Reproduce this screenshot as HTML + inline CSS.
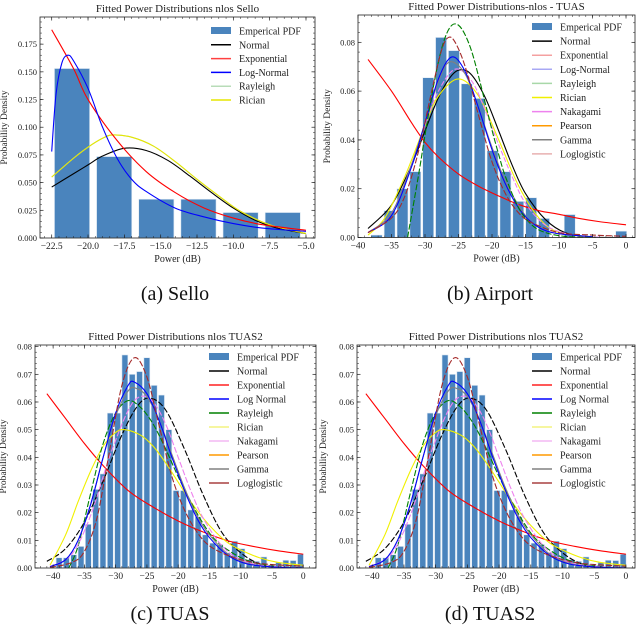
<!DOCTYPE html>
<html><head><meta charset="utf-8">
<style>
html,body{margin:0;padding:0;background:#fff;}
svg{display:block;font-family:"Liberation Serif",serif;}
</style></head>
<body>
<svg id="fig" width="640" height="625" viewBox="0 0 640 625" xmlns="http://www.w3.org/2000/svg"></svg>
<script>
// ---------- Panel (a) Sello data ----------
const aBarCenters = [-21.1, -18.2, -15.3, -12.4, -9.5, -6.6];
const aBarHeights = [0.153, 0.0735, 0.035, 0.035, 0.023, 0.023];
const aNormalX = [-22.5,-21,-20,-19,-17.5,-16,-14.5,-13,-11.5,-10,-8.5,-7,-5];
const aNormalY = [0.046,0.058,0.066,0.074,0.081,0.079,0.070,0.056,0.041,0.027,0.016,0.009,0.004];
const aRicianX = [-22.5,-21,-20,-19,-18.3,-17,-15.5,-14,-12.5,-11,-9.5,-7.5,-5];
const aRicianY = [0.055,0.072,0.082,0.090,0.093,0.091,0.083,0.069,0.053,0.038,0.024,0.012,0.004];
const aExpX = [-22.5,-21,-20,-18,-16,-14,-12,-10,-8,-5];
const aExpY = [0.188,0.153,0.125,0.088,0.060,0.041,0.027,0.018,0.012,0.007];
const aLogNX = [-22.5,-22.2,-21.8,-21.4,-21,-20,-19,-18,-17,-16,-14,-12,-10,-8,-5];
const aLogNY = [0.078,0.13,0.158,0.165,0.16,0.135,0.10,0.072,0.053,0.042,0.027,0.019,0.013,0.009,0.006];
const aTicksX = [-22.5,-20,-17.5,-15,-12.5,-10,-7.5,-5];
const aTickLabelsX = ["\u221222.5","\u221220.0","\u221217.5","\u221215.0","\u221212.5","\u221210.0","\u22127.5","\u22125.0"];
const aTicksY = [0,0.025,0.05,0.075,0.1,0.125,0.15,0.175];
const aTickLabelsY = ["0.000","0.025","0.050","0.075","0.100","0.125","0.150","0.175"];

// ---------- Panel (b) Airport data ----------
const bBarCenters = [-37.2,-35.28,-33.36,-31.44,-29.52,-27.6,-25.68,-23.76,-21.84,-19.92,-18,-16.08,-14.16,-12.24,-10.32,-8.4,-6.48,-4.56,-2.64,-0.72];
const bBarHeights = [0.001,0.011,0.020,0.027,0.0655,0.082,0.0766,0.063,0.057,0.0356,0.027,0.0148,0.0163,0.0078,0,0.0094,0,0,0,0.0026];
const bNormalX = [-38.5,-35,-32,-30,-28,-26,-24.5,-23,-21,-19,-17,-15,-12,-9,-5,0];
const bNormalY = [0.0037,0.0133,0.0297,0.0437,0.0573,0.0665,0.0688,0.0665,0.0573,0.0437,0.0297,0.018,0.0073,0.0019,0.0002,0];
const bExpX = [-38.5,-35,-32,-30,-28,-25,-22,-19,-16,-13,-10,-7,-4,0];
const bExpY = [0.073,0.060,0.047,0.039,0.033,0.026,0.021,0.017,0.0135,0.011,0.0095,0.0078,0.0065,0.0052];
const bRayX = [-32.6,-31,-30,-29,-28,-27,-26,-25,-24,-23,-22,-21,-20,-19,-18,-16,-14,-12,-9,-5];
const bRayY = [0,0.025,0.042,0.058,0.072,0.082,0.087,0.087,0.083,0.076,0.066,0.055,0.044,0.034,0.025,0.012,0.005,0.002,0.0004,0];
const bLogLX = [-38.5,-35,-33,-31,-29,-27.5,-26.5,-25.5,-24,-22,-20,-18,-16,-14,-10,-5,0];
const bLogLY = [0.002,0.008,0.017,0.035,0.060,0.077,0.082,0.080,0.070,0.050,0.031,0.018,0.010,0.006,0.002,0.001,0.0005];
const bLogNX = [-38.5,-35,-32,-30,-28,-26,-24,-22,-20,-18,-16,-14,-11,-5];
const bLogNY = [0.002,0.009,0.029,0.047,0.065,0.074,0.068,0.053,0.036,0.022,0.012,0.006,0.002,0.0003];
const bGammaX = [-38.5,-35,-32,-30,-28,-26.3,-24,-22,-20,-18,-16,-14,-11,-5];
const bGammaY = [0.002,0.010,0.030,0.047,0.064,0.072,0.067,0.053,0.037,0.023,0.013,0.006,0.002,0.0003];
const bNakX = [-38.5,-35,-32,-30,-28,-25.5,-23,-21,-19,-17,-15,-12,-8,-4];
const bNakY = [0.002,0.010,0.030,0.046,0.060,0.069,0.064,0.052,0.038,0.025,0.014,0.005,0.001,0.0002];
const bRicX = [-38.5,-36,-33,-30,-28,-25,-22,-19,-16,-13,-10,-5];
const bRicY = [0.001,0.008,0.025,0.046,0.058,0.065,0.058,0.040,0.021,0.008,0.002,0];
const bTicksX = [-40,-35,-30,-25,-20,-15,-10,-5,0];
const bTickLabelsX = ["\u221240","\u221235","\u221230","\u221225","\u221220","\u221215","\u221210","\u22125","0"];
const bTicksY = [0,0.02,0.04,0.06,0.08];
const bTickLabelsY = ["0.00","0.02","0.04","0.06","0.08"];

// ---------- Panels (c),(d) TUAS data ----------
const cBarHeights = [0.0037,0.0037,0.0048,0.0078,0.0158,0.0284,0.034,0.056,0.056,0.077,0.070,0.071,0.076,0.066,0.0625,0.050,0.028,0.028,0.021,0.0185,0.012,0.009,0.0085,0.0055,0.0097,0.007,0.003,0.0024,0.004,0.001,0.002,0.0028,0.0027,0.005];
const cBarStart = -39.05;
const cBarStep = 1.17;
const cNormalX = [-41,-38,-35,-32,-29,-26.5,-24.5,-22,-19,-16,-13,-10,-7,-4,0];
const cNormalY = [0.0024,0.0070,0.0166,0.0315,0.0481,0.0586,0.0614,0.0571,0.0430,0.0264,0.0128,0.0055,0.0015,0.0003,0.0001];
const cExpX = [-41,-38,-35,-32,-28,-24,-20,-16,-12,-8,-4,0];
const cExpY = [0.063,0.054,0.045,0.037,0.028,0.022,0.017,0.013,0.0098,0.0078,0.0062,0.005];
const cLogNX = [-40.5,-38,-36,-34,-32,-30,-28,-27,-25,-23,-21,-19,-17,-15,-12,-9,-5,0];
const cLogNY = [0.0005,0.003,0.010,0.023,0.040,0.056,0.066,0.0672,0.063,0.053,0.040,0.028,0.018,0.011,0.0045,0.0015,0.0004,0];
const cGammaX = [-40.5,-38,-36,-34,-32,-30,-28,-26.8,-25,-23,-21,-19,-17,-15,-12,-9,-5,0];
const cGammaY = [0.0005,0.003,0.010,0.023,0.040,0.055,0.064,0.065,0.062,0.053,0.041,0.029,0.019,0.012,0.005,0.0017,0.0004,0];
const cNakX = [-40.5,-37,-34,-31,-28,-26,-24,-22,-20,-18,-16,-13,-10,-6,0];
const cNakY = [0.0005,0.005,0.019,0.040,0.057,0.062,0.060,0.052,0.040,0.028,0.018,0.008,0.003,0.0008,0];
const cRayX = [-37.5,-36,-34,-32,-30,-28,-26,-24,-22,-20,-18,-16,-14,-11,-8,-4,0];
const cRayY = [0,0.008,0.027,0.045,0.056,0.0605,0.058,0.052,0.043,0.033,0.024,0.016,0.010,0.005,0.002,0.0005,0];
const cRicX = [-40.5,-38,-36,-34,-32,-30,-28.5,-26,-24,-22,-20,-18,-16,-14,-12,-10,-7,-4,0];
const cRicY = [0.001,0.012,0.024,0.035,0.044,0.049,0.050,0.048,0.044,0.038,0.031,0.024,0.018,0.013,0.009,0.0065,0.0037,0.002,0.001];
const cLogLX = [-40.5,-37,-35,-33,-31,-29,-27,-25,-23,-21,-19,-17,-15,-12,-8,-4,0];
const cLogLY = [0.0002,0.002,0.006,0.018,0.042,0.066,0.076,0.069,0.051,0.033,0.021,0.013,0.008,0.0045,0.002,0.0011,0.0007];
const cTicksX = [-40,-35,-30,-25,-20,-15,-10,-5,0];
const cTickLabelsX = ["\u221240","\u221235","\u221230","\u221225","\u221220","\u221215","\u221210","\u22125","0"];
const cTicksY = [0,0.01,0.02,0.03,0.04,0.05,0.06,0.07,0.08];
const cTickLabelsY = ["0.00","0.01","0.02","0.03","0.04","0.05","0.06","0.07","0.08"];

const NS = "http://www.w3.org/2000/svg";
const fig = document.getElementById('fig');
function mk(tag, attrs, parent) {
  const e = document.createElementNS(NS, tag);
  for (const k in attrs) e.setAttribute(k, attrs[k]);
  (parent || fig).appendChild(e);
  return e;
}
function smoothPath(pts) {
  let d = "M" + pts[0][0].toFixed(2) + "," + pts[0][1].toFixed(2);
  for (let i = 0; i < pts.length - 1; i++) {
    const p0 = pts[i - 1] || pts[i], p1 = pts[i], p2 = pts[i + 1], p3 = pts[i + 2] || p2;
    const c1x = p1[0] + (p2[0] - p0[0]) / 6, c1y = p1[1] + (p2[1] - p0[1]) / 6;
    const c2x = p2[0] - (p3[0] - p1[0]) / 6, c2y = p2[1] - (p3[1] - p1[1]) / 6;
    d += " C" + c1x.toFixed(2) + "," + c1y.toFixed(2) + " " + c2x.toFixed(2) + "," + c2y.toFixed(2) + " " + p2[0].toFixed(2) + "," + p2[1].toFixed(2);
  }
  return d;
}

function panel(cfg) {
  const g = mk('g', {});
  
  
  const sx = v => cfg.x0 + (v - cfg.xmin) / (cfg.xmax - cfg.xmin) * (cfg.x1 - cfg.x0);
  const sy = v => cfg.y1 - (v - cfg.ymin) / (cfg.ymax - cfg.ymin) * (cfg.y1 - cfg.y0);
  // bars
  const bars = mk('g', {}, g);
  
  
  cfg.barCenters.forEach((c, i) => {
    const h = cfg.barHeights[i];
    if (h <= 0) return;
    const r = mk('rect', {x: sx(c - cfg.barW / 2), y: sy(h), width: sx(c + cfg.barW / 2) - sx(c - cfg.barW / 2), height: sy(0) - sy(h), fill: '#4a84bd', stroke: '#dfe9f3', 'stroke-width': 0.6}, bars);
    
    
  });
  // curves
  const cp = mk('clipPath', {id: 'clip-' + cfg.name}, g);
  mk('rect', {x: cfg.x0, y: cfg.y0, width: cfg.x1 - cfg.x0, height: cfg.y1 - cfg.y0}, cp);
  const cg = mk('g', {'clip-path': 'url(#clip-' + cfg.name + ')'}, g);
  cfg.curves.forEach(cv => {
    const pts = cv.x.map((xv, i) => [sx(xv), sy(cv.y[i])]);
    const p = mk('path', {d: smoothPath(pts), fill: 'none', stroke: cv.color, 'stroke-width': 1.1, 'stroke-dasharray': cv.dash || 'none'}, cg);
    
    
  });
  // frame
  const fr = mk('rect', {x: cfg.x0, y: cfg.y0, width: cfg.x1 - cfg.x0, height: cfg.y1 - cfg.y0, fill: 'none', stroke: '#222', 'stroke-width': 0.8}, g);
  
  
  // ticks
  cfg.ticksX.forEach((t, i) => {
    const x = sx(t);
    mk('line', {x1: x, x2: x, y1: cfg.y1, y2: cfg.y1 - 3.5, stroke: '#222', 'stroke-width': 0.7}, g);
    mk('line', {x1: x, x2: x, y1: cfg.y0, y2: cfg.y0 + 3.5, stroke: '#222', 'stroke-width': 0.7}, g);
    const tl = mk('text', {x: x, y: cfg.y1 + 11, 'text-anchor': 'middle', 'font-size': 9.5, fill: '#222'}, g);
    tl.textContent = cfg.tickLabelsX[i];
    
    
  });
  const dxm = (cfg.ticksX[1] - cfg.ticksX[0]) / 5;
  for (let v = cfg.ticksX[0] - 5 * dxm; v <= cfg.xmax; v += dxm) {
    if (v < cfg.xmin) continue;
    const x = sx(v);
    mk('line', {x1: x, x2: x, y1: cfg.y1, y2: cfg.y1 - 2, stroke: '#222', 'stroke-width': 0.5}, g);
    mk('line', {x1: x, x2: x, y1: cfg.y0, y2: cfg.y0 + 2, stroke: '#222', 'stroke-width': 0.5}, g);
  }
  cfg.ticksY.forEach((t, i) => {
    const y = sy(t);
    mk('line', {x1: cfg.x0, x2: cfg.x0 + 3.5, y1: y, y2: y, stroke: '#222', 'stroke-width': 0.7}, g);
    mk('line', {x1: cfg.x1, x2: cfg.x1 - 3.5, y1: y, y2: y, stroke: '#222', 'stroke-width': 0.7}, g);
    const tl = mk('text', {x: cfg.x0 - 3, y: y + 3, 'text-anchor': 'end', 'font-size': 8.5, fill: '#222'}, g);
    tl.textContent = cfg.tickLabelsY[i];
    
    
  });
  const dym = (cfg.ticksY[1] - cfg.ticksY[0]) / 5;
  for (let v = 0; v <= cfg.ymax + 1e-9; v += dym) {
    const y = sy(v);
    mk('line', {x1: cfg.x0, x2: cfg.x0 + 2, y1: y, y2: y, stroke: '#222', 'stroke-width': 0.5}, g);
    mk('line', {x1: cfg.x1, x2: cfg.x1 - 2, y1: y, y2: y, stroke: '#222', 'stroke-width': 0.5}, g);
  }
  // title & labels
  const tt = mk('text', {x: (cfg.x0 + cfg.x1) / 2, y: cfg.y0 - 5, 'text-anchor': 'middle', 'font-size': 11, fill: '#222'}, g);
  tt.textContent = cfg.title;
  
  
  const xl = mk('text', {x: (cfg.x0 + cfg.x1) / 2, y: cfg.y1 + 24, 'text-anchor': 'middle', 'font-size': 10, fill: '#222'}, g);
  xl.textContent = 'Power (dB)';
  
  
  const yx = cfg.ylabX, yy = (cfg.y0 + cfg.y1) / 2;
  const yl = mk('text', {x: yx, y: yy, 'text-anchor': 'middle', 'font-size': 9.5, fill: '#222', transform: 'rotate(-90 ' + yx + ' ' + yy + ')'}, g);
  yl.textContent = 'Probability Density';
  
  
  // legend
  const lg = mk('g', {}, g);
  
  
  cfg.legend.forEach((it, i) => {
    const y = cfg.legY + i * cfg.legStep;
    if (i === 0) mk('rect', {x: cfg.legX, y: y - 4, width: 20, height: 7, fill: '#4a84bd'}, lg);
    else mk('line', {x1: cfg.legX, x2: cfg.legX + 20, y1: y, y2: y, stroke: it[1], 'stroke-width': 1.5}, lg);
    const t = mk('text', {x: cfg.legX + 28, y: y + 3.5, 'font-size': 10, fill: '#222'}, lg);
    t.textContent = it[0];
    
    
  });
  // caption
  const cap = mk('text', {x: cfg.capX, y: cfg.capY, 'text-anchor': 'middle', 'font-size': 20, fill: '#111'}, g);
  cap.textContent = cfg.caption;
  
  
}

panel({name: 'panel-sello', x0: 40, x1: 315, y0: 17, y1: 238, xmin: -23.305, xmax: -4.38, ymin: 0, ymax: 0.1995,
  barCenters: aBarCenters, barHeights: aBarHeights, barW: 2.42,
  curves: [
    {key: 'rayleigh', x: aRicianX, y: aRicianY, color: '#b8dcb8'},
    {key: 'normal', x: aNormalX, y: aNormalY, color: '#000'},
    {key: 'rician', x: aRicianX, y: aRicianY, color: '#e6e600'},
    {key: 'exponential', x: aExpX, y: aExpY, color: '#ff0000'},
    {key: 'log-normal', x: aLogNX, y: aLogNY, color: '#0000ff'}],
  ticksX: aTicksX, tickLabelsX: aTickLabelsX, ticksY: aTicksY, tickLabelsY: aTickLabelsY,
  title: 'Fitted Power Distributions nlos   Sello', ylabX: 7,
  legend: [['Emperical PDF'], ['Normal', '#000'], ['Exponential', '#ff4040'], ['Log-Normal', '#0000ff'], ['Rayleigh', '#b8dcb8'], ['Rician', '#e6e600']],
  legX: 211, legY: 31, legStep: 13.8, caption: '(a) Sello', capX: 175, capY: 300});

panel({name: 'panel-airport', x0: 358, x1: 635, y0: 15, y1: 237.5, xmin: -40.0, xmax: 1.34, ymin: 0, ymax: 0.0912,
  barCenters: bBarCenters, barHeights: bBarHeights, barW: 1.64,
  curves: [
    {key: 'normal', x: bNormalX, y: bNormalY, color: '#000'},
    {key: 'exponential', x: bExpX, y: bExpY, color: '#ff0000'},
    {key: 'rician', x: bRicX, y: bRicY, color: '#f0f000'},
    {key: 'nakagami', x: bNakX, y: bNakY, color: '#ee82ee', dash: '5,2'},
    {key: 'gamma', x: bGammaX, y: bGammaY, color: '#808080'},
    {key: 'log-normal', x: bLogNX, y: bLogNY, color: '#0000ff'},
    {key: 'rayleigh', x: bRayX, y: bRayY, color: '#008000', dash: '6,2'},
    {key: 'loglogistic', x: bLogLX, y: bLogLY, color: '#a52a2a', dash: '6,2'}],
  ticksX: bTicksX, tickLabelsX: bTickLabelsX, ticksY: bTicksY, tickLabelsY: bTickLabelsY,
  title: 'Fitted Power Distributions-nlos - TUAS', ylabX: 330,
  legend: [['Emperical PDF'], ['Normal', '#000'], ['Exponential', '#f4a0a0'], ['Log-Normal', '#a8a8f4'], ['Rayleigh', '#a8d8a8'], ['Rician', '#f0f000'], ['Nakagami', '#ee82ee'], ['Pearson', '#ff9a00'], ['Gamma', '#808080'], ['Loglogistic', '#e8b0b0']],
  legX: 532, legY: 27, legStep: 14.1, caption: '(b) Airport', capX: 490, capY: 300});

const cBarCenters = cBarHeights.map((h, i) => cBarStart + i * cBarStep);
const cCurves = [
  {key: 'normal', x: cNormalX, y: cNormalY, color: '#000', dash: '6,2'},
  {key: 'exponential', x: cExpX, y: cExpY, color: '#ff0000'},
  {key: 'rician', x: cRicX, y: cRicY, color: '#f0f000'},
  {key: 'rayleigh', x: cRayX, y: cRayY, color: '#008000', dash: '6,2'},
  {key: 'nakagami', x: cNakX, y: cNakY, color: '#ee82ee', dash: '6,2'},
  {key: 'gamma', x: cGammaX, y: cGammaY, color: '#808080'},
  {key: 'log-normal', x: cLogNX, y: cLogNY, color: '#0000ff'},
  {key: 'loglogistic', x: cLogLX, y: cLogLY, color: '#a52a2a', dash: '6,2'}];
const cLegend = [['Emperical PDF'], ['Normal', '#000'], ['Exponential', '#ff2020'], ['Log Normal', '#0000ff'], ['Rayleigh', '#008000'], ['Rician', '#f4f480'], ['Nakagami', '#f4b8f4'], ['Pearson', '#ff9a00'], ['Gamma', '#808080'], ['Loglogistic', '#a84040']];

panel({name: 'panel-tuas', x0: 35, x1: 316, y0: 345, y1: 568, xmin: -42.9, xmax: 2.04, ymin: 0, ymax: 0.0806,
  barCenters: cBarCenters, barHeights: cBarHeights, barW: 0.95, curves: cCurves,
  ticksX: cTicksX, tickLabelsX: cTickLabelsX, ticksY: cTicksY, tickLabelsY: cTickLabelsY,
  title: 'Fitted Power Distributions nlos   TUAS2', ylabX: 6,
  legend: cLegend, legX: 209, legY: 357, legStep: 14, caption: '(c) TUAS', capX: 170, capY: 620});

panel({name: 'panel-tuas2', x0: 357, x1: 635, y0: 345, y1: 568, xmin: -42.4, xmax: 1.43, ymin: 0, ymax: 0.0806,
  barCenters: cBarCenters, barHeights: cBarHeights, barW: 0.95, curves: cCurves,
  ticksX: cTicksX, tickLabelsX: cTickLabelsX, ticksY: cTicksY, tickLabelsY: cTickLabelsY,
  title: 'Fitted Power Distributions nlos   TUAS2', ylabX: 326,
  legend: cLegend, legX: 532, legY: 357, legStep: 14, caption: '(d) TUAS2', capX: 490, capY: 620});
</script>
</body></html>
